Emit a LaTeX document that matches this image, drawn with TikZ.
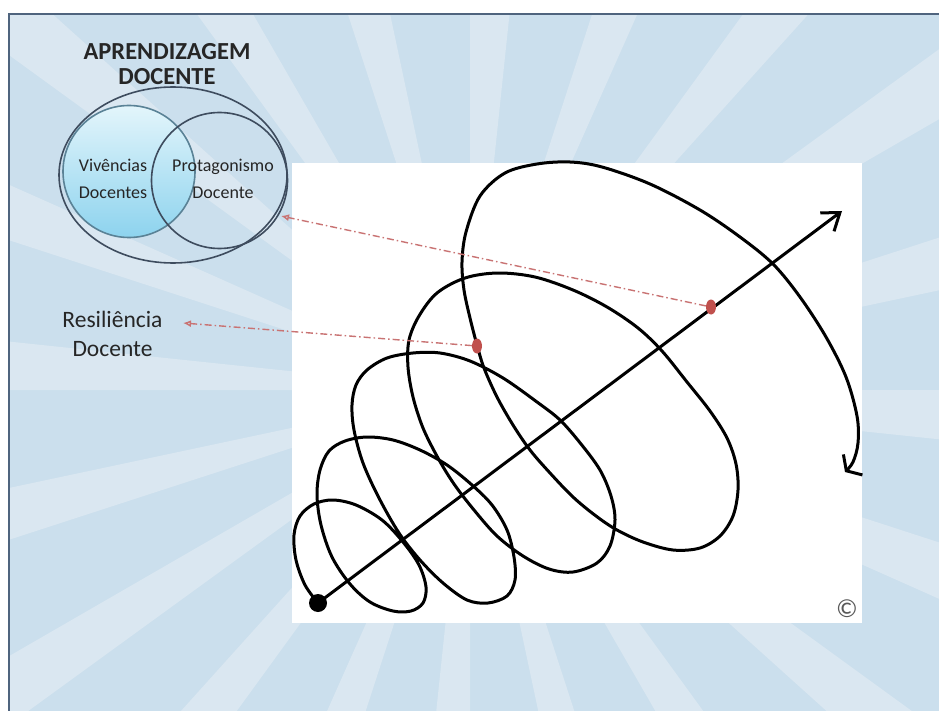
\documentclass[tikz,border=0pt]{standalone}
\usepackage{fontspec}
\setmainfont{Carlito}
\usetikzlibrary{arrows.meta,shapes.geometric}
\definecolor{bgbase}{HTML}{CBDFED}
\definecolor{bgray}{HTML}{DAE7F1}
\definecolor{framec}{HTML}{4F647E}
\definecolor{vennline}{HTML}{3E4C5E}
\definecolor{cyantop}{HTML}{E3F5FB}
\definecolor{cyanbot}{HTML}{8DD3EE}
\definecolor{cyanrim}{HTML}{5A8296}
\definecolor{reddot}{HTML}{C0504D}
\definecolor{reddash}{HTML}{C97373}
\definecolor{textdark}{HTML}{262626}
\begin{document}
\begin{tikzpicture}[x=1pt,y=-1pt,
  spiralline/.style={line width=3pt, black, line join=round},
  axisline/.style={line width=3pt, black},
  marker/.style={ellipse, fill=reddot, inner sep=0pt, minimum width=10pt, minimum height=15pt},
  dasharrow/.style={reddash, line width=1.4pt, dash pattern=on 7pt off 3pt on 1.5pt off 3pt, -{Latex[open,length=8pt,width=7pt]}},
  vennshape/.style={draw=vennline, line width=1.6pt, inner sep=0pt},
  label/.style={text=textdark, align=center, anchor=base}
]
\useasboundingbox (0,0) rectangle (939,711);
\fill[white] (0,0) rectangle (939,711);
% background with rays
\begin{scope}
  \clip (9,14) rectangle (939,711);
  \fill[bgbase] (9,14) rectangle (939,711);
  \foreach \a in {0,18,...,342}{
    \fill[bgray] (470,390) -- +(\a:1400) -- +(\a+6:1400) -- cycle;
  }
\end{scope}
\draw[framec, line width=2pt] (9,711) -- (9,14) -- (939,14);

% white panel
\fill[white] (292,163) rectangle (862,623);

% Venn diagram
\node[vennshape, ellipse, minimum width=228pt, minimum height=176pt] (apr) at (173,175) {};
\node[vennshape, circle, draw=cyanrim, minimum size=132pt, top color=cyantop, bottom color=cyanbot] (viv) at (129,171.5) {};
\node[vennshape, circle, minimum size=136pt] (prot) at (219.5,180.5) {};
\node[label, font=\bfseries\fontsize{24.5}{25.5}\selectfont] (title) at (167,85) {APRENDIZAGEM\\DOCENTE};
\node[label, font=\fontsize{18}{27.3}\selectfont] (vivt) at (113,198.8) {Vivências\\Docentes};
\node[label, font=\fontsize{18}{27.3}\selectfont] (prott) at (223,198.8) {Protagonismo\\Docente};
\node[label, font=\fontsize{23.5}{29.5}\selectfont] (resil) at (112.5,356.5) {Resiliência\\Docente};

% spiral
\draw[spiralline, -{Straight Barb[length=9pt,width=28pt]}] plot[smooth, tension=0.55] coordinates {
(318,603) (305,585) (296,560) (294,535) (300,516) (314,504) (333,500) (356,505) (382,520) (403,542) (419,565) (426,587) (423,603) (411,611) (393,611) (370,602) (350,584) (332,557) (321,525) (317,495) (320,470) (329,451) (345,441) (367,437) (393,440) (420,450) (447,465) (472,485) (492,505) (507,530) (514,557) (515,580) (507,596) (488,603) (467,600) (443,583) (420,560) (399,533) (379,498) (363,463) (354,430) (352,405) (356,385) (367,370) (387,358) (413,353) (440,353) (470,361) (503,378) (537,402) (560,420) (581,444) (600,470) (611,496) (615,520) (610,546) (597,563) (573,572) (549,569) (523,556) (497,536) (474,510) (454,484) (438,458) (423,428) (413,397) (408,367) (409,340) (419,316) (437,293) (465,278) (498,273) (535,277) (573,290) (607,307) (638,328) (662,351) (687,382) (710,411) (727,438) (736,464) (738,490) (733,516) (720,536) (700,548) (673,550) (643,542) (617,530) (596,516) (573,497) (550,473) (530,450) (513,425) (497,397) (484,368) (477,345) (470,318) (464,290) (462,262) (466,232) (480,196) (505,173) (537,164) (570,162) (602,167) (650,184) (700,210) (740,237) (773,264) (800,297) (826,337) (846,377) (857,416) (858,443) (853,462) (845,472)};

% axis
\node[circle, fill=black, inner sep=0pt, minimum size=18pt] (start) at (318,603) {};
\coordinate (tipA) at (842,211);
\draw[axisline, -{Straight Barb[length=16pt,width=23pt]}] (start.center) -- (tipA);

% markers and dashed arrows
\node[marker] (rd1) at (477,346) {};
\node[marker] (rd2) at (711,307) {};
\coordinate (vennTip) at (281,216);
\coordinate (resTip) at (183,323);
\draw[dasharrow] (rd2) -- (vennTip);
\draw[dasharrow] (rd1) -- (resTip);

% copyright
\node[text=black!65, font=\fontsize{26}{26}\selectfont, inner sep=0pt] (copy) at (847,609) {©};
\end{tikzpicture}
\end{document}
